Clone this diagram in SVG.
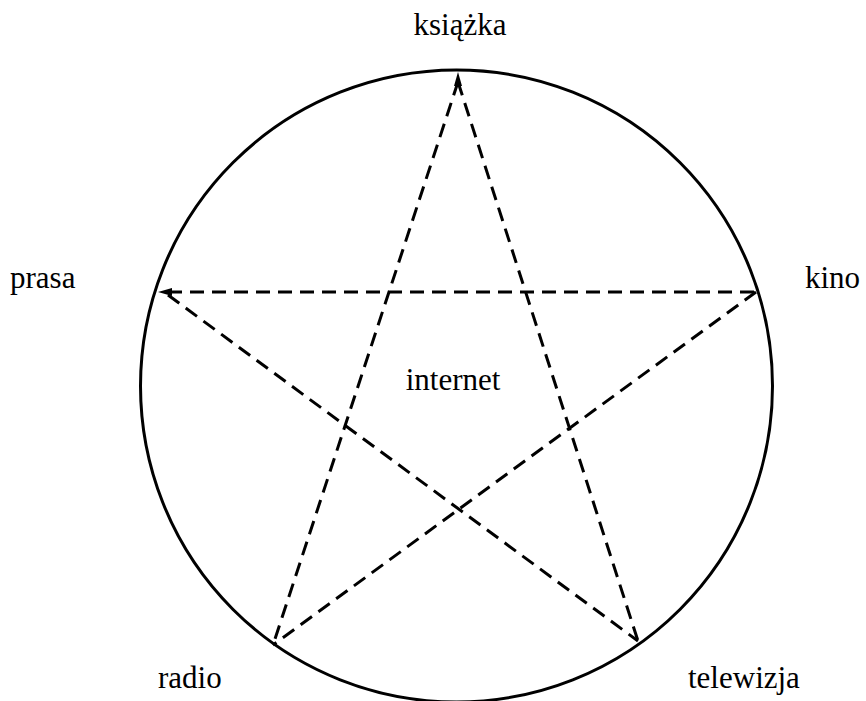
<svg xmlns="http://www.w3.org/2000/svg" width="866" height="701" viewBox="0 0 866 701">
<style>
.lbl{font-family:"Liberation Serif","Times New Roman",serif;font-size:31px;fill:#000}
.dash{stroke:#000;stroke-width:3;stroke-dasharray:14 8;fill:none}
.head{fill:#000;stroke:none}
</style>
<rect width="866" height="701" fill="#fff"/>
<g id="circle"><circle cx="456.5" cy="386" r="316" fill="none" stroke="#000" stroke-width="3"/></g>
<g id="connectors">
<line class="dash" x1="458" y1="82" x2="273" y2="645"/>
<line class="dash" x1="458" y1="82" x2="638" y2="641"/>
<line class="dash" x1="168" y1="292" x2="756" y2="292"/>
<line class="dash" x1="168" y1="295" x2="638" y2="641"/>
<line class="dash" x1="756" y1="292" x2="273" y2="645"/>
<polygon class="head" points="458,72 454,86 462,86"/>
<polygon class="head" points="158,292 172,288 172,296"/>
</g>
<g id="n-ksiazka"><text class="lbl" x="460" y="35" text-anchor="middle">książka</text></g>
<g id="n-prasa"><text class="lbl" x="10" y="288">prasa</text></g>
<g id="n-kino"><text class="lbl" x="805" y="288">kino</text></g>
<g id="n-internet"><text class="lbl" x="453" y="390" text-anchor="middle">internet</text></g>
<g id="n-radio"><text class="lbl" x="158" y="688">radio</text></g>
<g id="n-telewizja"><text class="lbl" x="688" y="688">telewizja</text></g>
</svg>
